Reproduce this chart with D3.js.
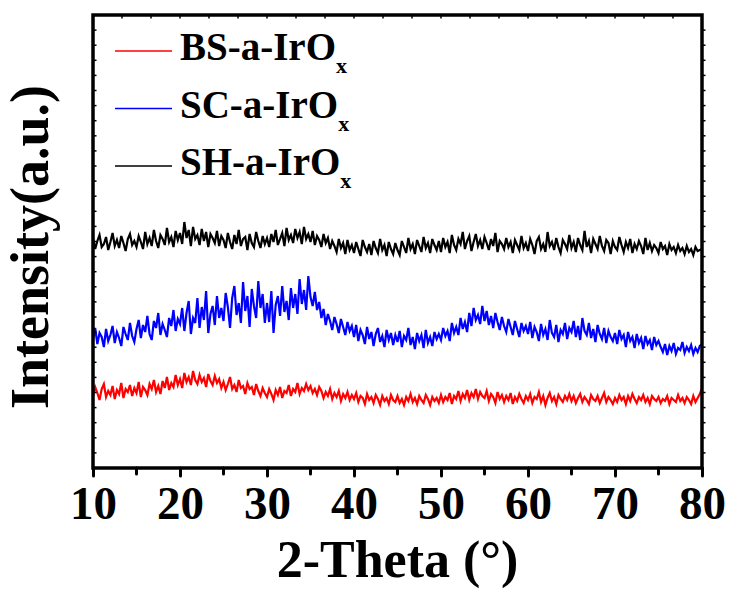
<!DOCTYPE html>
<html>
<head>
<meta charset="utf-8">
<script src="https://cdn.jsdelivr.net/npm/d3@7"></script>
<style>
  body { margin: 0; background: #fff; }
  text { font-family: "Liberation Serif", "Times New Roman", serif; font-weight: bold; }
</style>
</head>
<body>
<div id="chart"></div>
<script>

// scan settings (2-theta, degrees)
var thetaStart = 10, thetaStep = 0.25;

var xTicks = [10, 20, 30, 40, 50, 60, 70, 80];
var seriesNames = ["BS-a-IrO", "SC-a-IrO", "SH-a-IrO"];
var seriesColors = ["#ff0000", "#0000ff", "#000000"];

// intensities (a.u.), one value every 0.25 deg from 10 to 80
var bsIrO = [
  72, 81, 75, 68, 79, 84, 71, 77, 73, 82, 69, 78, 74, 85, 70, 79, 76, 83, 72, 80,
  75, 86, 71, 81, 78, 73, 84, 79, 88, 76, 82, 74, 87, 80, 91, 78, 85, 81, 93, 83,
  89, 80, 95, 86, 91, 83, 97, 88, 84, 93, 86, 90, 81, 94, 87, 83, 92, 85, 89, 80,
  86, 78, 84, 91, 79, 83, 76, 88, 80, 82, 74, 85, 79, 81, 73, 84, 77, 72, 80, 75,
  71, 79, 74, 68, 78, 73, 81, 70, 77, 75, 83, 72, 79, 76, 85, 74, 80, 77, 84, 78,
  82, 75, 79, 73, 81, 77, 70, 76, 72, 79, 69, 75, 71, 77, 67, 74, 70, 76, 68, 73,
  69, 75, 66, 72, 70, 64, 74, 68, 71, 65, 73, 69, 63, 72, 67, 70, 64, 73, 68, 66,
  72, 65, 69, 63, 71, 67, 74, 66, 70, 64, 72, 68, 65, 73, 69, 63, 71, 67, 70, 65,
  73, 66, 71, 68, 75, 64, 72, 69, 77, 67, 74, 70, 78, 68, 75, 71, 79, 69, 76, 72,
  70, 77, 67, 74, 71, 65, 76, 69, 73, 66, 72, 68, 75, 64, 71, 67, 74, 69, 65, 72,
  68, 74, 65, 71, 69, 76, 66, 72, 63, 70, 75, 67, 71, 64, 73, 69, 66, 72, 68, 74,
  67, 72, 65, 70, 74, 66, 71, 68, 64, 73, 69, 67, 72, 65, 70, 75, 66, 71, 68, 64,
  70, 66, 73, 68, 71, 64, 72, 67, 74, 69, 65, 71, 68, 73, 66, 70, 64, 72, 69, 67,
  71, 65, 69, 67, 72, 64, 70, 68, 66, 73, 67, 70, 65, 71, 68, 64, 72, 66, 70, 74,
  80
];

var scIrO = [
  128, 140, 124, 135, 131, 121, 139, 127, 133, 142, 125, 136, 130, 122, 141, 134, 128, 145, 132, 126,
  139, 148, 130, 143, 136, 152, 134, 128, 147, 140, 155, 133, 144, 138, 131, 150, 142, 158, 137, 149,
  144, 160, 137, 155, 167, 134, 150, 145, 170, 140, 161, 148, 177, 135, 154, 162, 143, 172, 150, 160,
  147, 175, 161, 140, 170, 182, 153, 165, 145, 186, 157, 172, 141, 179, 162, 150, 187, 160, 174, 145,
  165, 146, 177, 135, 163, 172, 152, 182, 156, 167, 148, 180, 160, 174, 154, 189, 164, 178, 158, 192,
  171, 162, 176, 158, 166, 150, 159, 143, 154, 147, 138, 151, 144, 135, 149, 141, 133, 146, 137, 142,
  131, 143, 127, 138, 133, 124, 141, 129, 136, 122, 134, 140, 126, 132, 121, 138, 128, 135, 123, 133,
  126, 137, 121, 132, 128, 140, 123, 131, 119, 135, 127, 133, 120, 138, 125, 131, 122, 136, 129, 134,
  128, 140, 132, 137, 127, 145, 135, 141, 133, 150, 139, 146, 136, 155, 142, 160, 148, 153, 144, 162,
  147, 157, 143, 152, 140, 155, 146, 138, 151, 142, 136, 149, 141, 133, 147, 139, 131, 145, 137, 142,
  134, 146, 130, 141, 136, 127, 144, 133, 139, 128, 148, 135, 131, 143, 126, 138, 134, 145, 129, 140,
  136, 147, 131, 142, 128, 150, 137, 133, 145, 130, 139, 126, 143, 134, 129, 140, 125, 137, 131, 127,
  135, 124, 138, 129, 133, 121, 136, 127, 131, 120, 134, 125, 130, 119, 132, 124, 128, 118, 131, 123,
  127, 121, 116, 124, 113, 122, 117, 125, 114, 120, 118, 126, 115, 121, 117, 123, 114, 120, 116, 122,
  124
];

var shIrO = [
  230, 219, 227, 233, 221, 224, 231, 218, 226, 235, 222, 228, 220, 232, 225, 217, 229, 234, 223, 227,
  221, 232, 226, 219, 236, 224, 230, 222, 238, 227, 220, 233, 229, 223, 240, 226, 231, 221, 237, 228,
  235, 224, 246, 230, 238, 222, 241, 229, 233, 223, 239, 227, 236, 221, 234, 230, 225, 237, 222, 232,
  228, 220, 235, 226, 219, 233, 224, 238, 222, 229, 231, 218, 234, 225, 221, 236, 227, 220, 232, 224,
  230, 221, 234, 226, 238, 223, 229, 235, 222, 240, 228, 233, 225, 239, 230, 236, 224, 241, 229, 234,
  226, 237, 223, 232, 228, 221, 234, 225, 230, 219, 227, 222, 216, 229, 220, 225, 214, 228, 218, 223,
  215, 226, 219, 212, 228, 221, 216, 224, 213, 227, 220, 215, 229, 218, 223, 212, 226, 219, 214, 225,
  218, 213, 227, 221, 215, 230, 219, 224, 214, 228, 222, 216, 231, 220, 225, 215, 229, 223, 218, 227,
  216, 230, 221, 226, 215, 233, 223, 218, 229, 224, 236, 219, 227, 232, 217, 226, 234, 222, 228, 219,
  231, 225, 218, 229, 222, 235, 216, 227, 224, 219, 230, 221, 226, 215, 228, 223, 218, 232, 220, 225,
  217, 229, 223, 214, 227, 231, 219, 224, 216, 236, 222, 226, 218, 230, 221, 215, 228, 224, 219, 233,
  220, 226, 216, 230, 223, 218, 237, 221, 227, 215, 229, 224, 219, 232, 222, 217, 228, 225, 214, 227,
  221, 218, 231, 223, 216, 226, 220, 229, 215, 224, 219, 227, 222, 214, 230, 218, 225, 217, 223, 220,
  215, 226, 219, 222, 213, 224, 218, 221, 215, 223, 217, 220, 214, 222, 216, 219, 213, 221, 217, 218,
  219
];

var allSeries = [bsIrO, scIrO, shIrO];

// frame of the plot inside the 732x589 page
var margin = { top: 15, right: 30, bottom: 121, left: 93 },
    width = 732 - margin.left - margin.right,
    height = 589 - margin.top - margin.bottom;

var svg = d3.select("#chart")
    .append("svg")
    .attr("width", 732)
    .attr("height", 589)
    .append("g")
    .attr("transform", "translate(" + margin.left + "," + margin.top + ")");

var x = d3.scaleLinear().domain([10, 80]).range([0, width]);
var y = d3.scaleLinear().domain([0, height]).range([height, 0]);

// the three patterns
var line = d3.line()
    .x(function (d, i) { return x(thetaStart + i * thetaStep) })
    .y(function (d) { return y(d) });

svg.selectAll(".trace")
    .data(allSeries)
    .join("path")
    .attr("class", "trace")
    .attr("d", line)
    .attr("fill", "none")
    .attr("stroke", function (d, i) { return seriesColors[i] })
    .attr("stroke-width", 2.2)
    .attr("stroke-linejoin", "miter");

// bottom axis: major and minor ticks pointing out
var bottom = svg.append("g").attr("transform", "translate(0," + height + ")");
bottom.call(d3.axisBottom(x).tickValues(xTicks).tickSize(8).tickPadding(10).tickFormat(d3.format("d")));
bottom.selectAll(".tick line").attr("stroke-width", 3).attr("stroke-linecap", "round");
bottom.selectAll(".tick text")
    .style("font-size", "47px")
    .attr("fill", "#000");
bottom.select(".domain").remove();

var minorX = [15, 25, 35, 45, 55, 65, 75];
svg.append("g").selectAll("line")
    .data(minorX)
    .join("line")
    .attr("x1", function (d) { return x(d) })
    .attr("x2", function (d) { return x(d) })
    .attr("y1", height)
    .attr("y2", height + 6)
    .attr("stroke", "#000")
    .attr("stroke-width", 3)
    .attr("stroke-linecap", "round");

// small ticks on the other three sides
var topTicks = d3.range(1, 21).map(function (i) { return 10 + i * 10 / 3 });
svg.append("g").selectAll("line")
    .data(topTicks)
    .join("line")
    .attr("x1", function (d) { return x(d) })
    .attr("x2", function (d) { return x(d) })
    .attr("y1", 0)
    .attr("y2", 3.5)
    .attr("stroke", "#000")
    .attr("stroke-width", 1.5);

var sideTicks = d3.range(1, 30).map(function (i) { return i * height / 30 });
svg.append("g").selectAll("line")
    .data(sideTicks)
    .join("line")
    .attr("x1", 0)
    .attr("x2", 3.5)
    .attr("y1", function (d) { return y(d) })
    .attr("y2", function (d) { return y(d) })
    .attr("stroke", "#000")
    .attr("stroke-width", 1.5);
svg.append("g").selectAll("line")
    .data(sideTicks)
    .join("line")
    .attr("x1", width)
    .attr("x2", width + 3.5)
    .attr("y1", function (d) { return y(d) })
    .attr("y2", function (d) { return y(d) })
    .attr("stroke", "#000")
    .attr("stroke-width", 1.5);

// frame
svg.append("rect")
    .attr("x", 0)
    .attr("y", 0)
    .attr("width", width)
    .attr("height", height)
    .attr("fill", "none")
    .attr("stroke", "#000")
    .attr("stroke-width", 3.5);

// axis titles
svg.append("text")
    .attr("x", width / 2)
    .attr("y", height + 109)
    .attr("text-anchor", "middle")
    .style("font-size", "52px")
    .text("2-Theta (°)");

svg.append("text")
    .attr("transform", "translate(" + (-45) + "," + (247 - margin.top) + ") rotate(-90)")
    .attr("text-anchor", "middle")
    .style("font-size", "54px")
    .text("Intensity(a.u.)");

// legend
var legend = svg.append("g").attr("transform", "translate(22,36)");
var rows = legend.selectAll("g")
    .data(seriesNames)
    .join("g")
    .attr("transform", function (d, i) { return "translate(0," + (i * 57.5) + ")" });

rows.append("line")
    .attr("x1", 0)
    .attr("x2", 57)
    .attr("y1", 0)
    .attr("y2", 0)
    .attr("stroke", function (d, i) { return seriesColors[i] })
    .attr("stroke-width", 1.5);

var label = rows.append("text")
    .attr("x", 65)
    .attr("y", 9)
    .style("font-size", "39px");
label.append("tspan").text(function (d) { return d });
label.append("tspan")
    .attr("dy", 13)
    .style("font-size", "22px")
    .text("x");

</script>
</body>
</html>
